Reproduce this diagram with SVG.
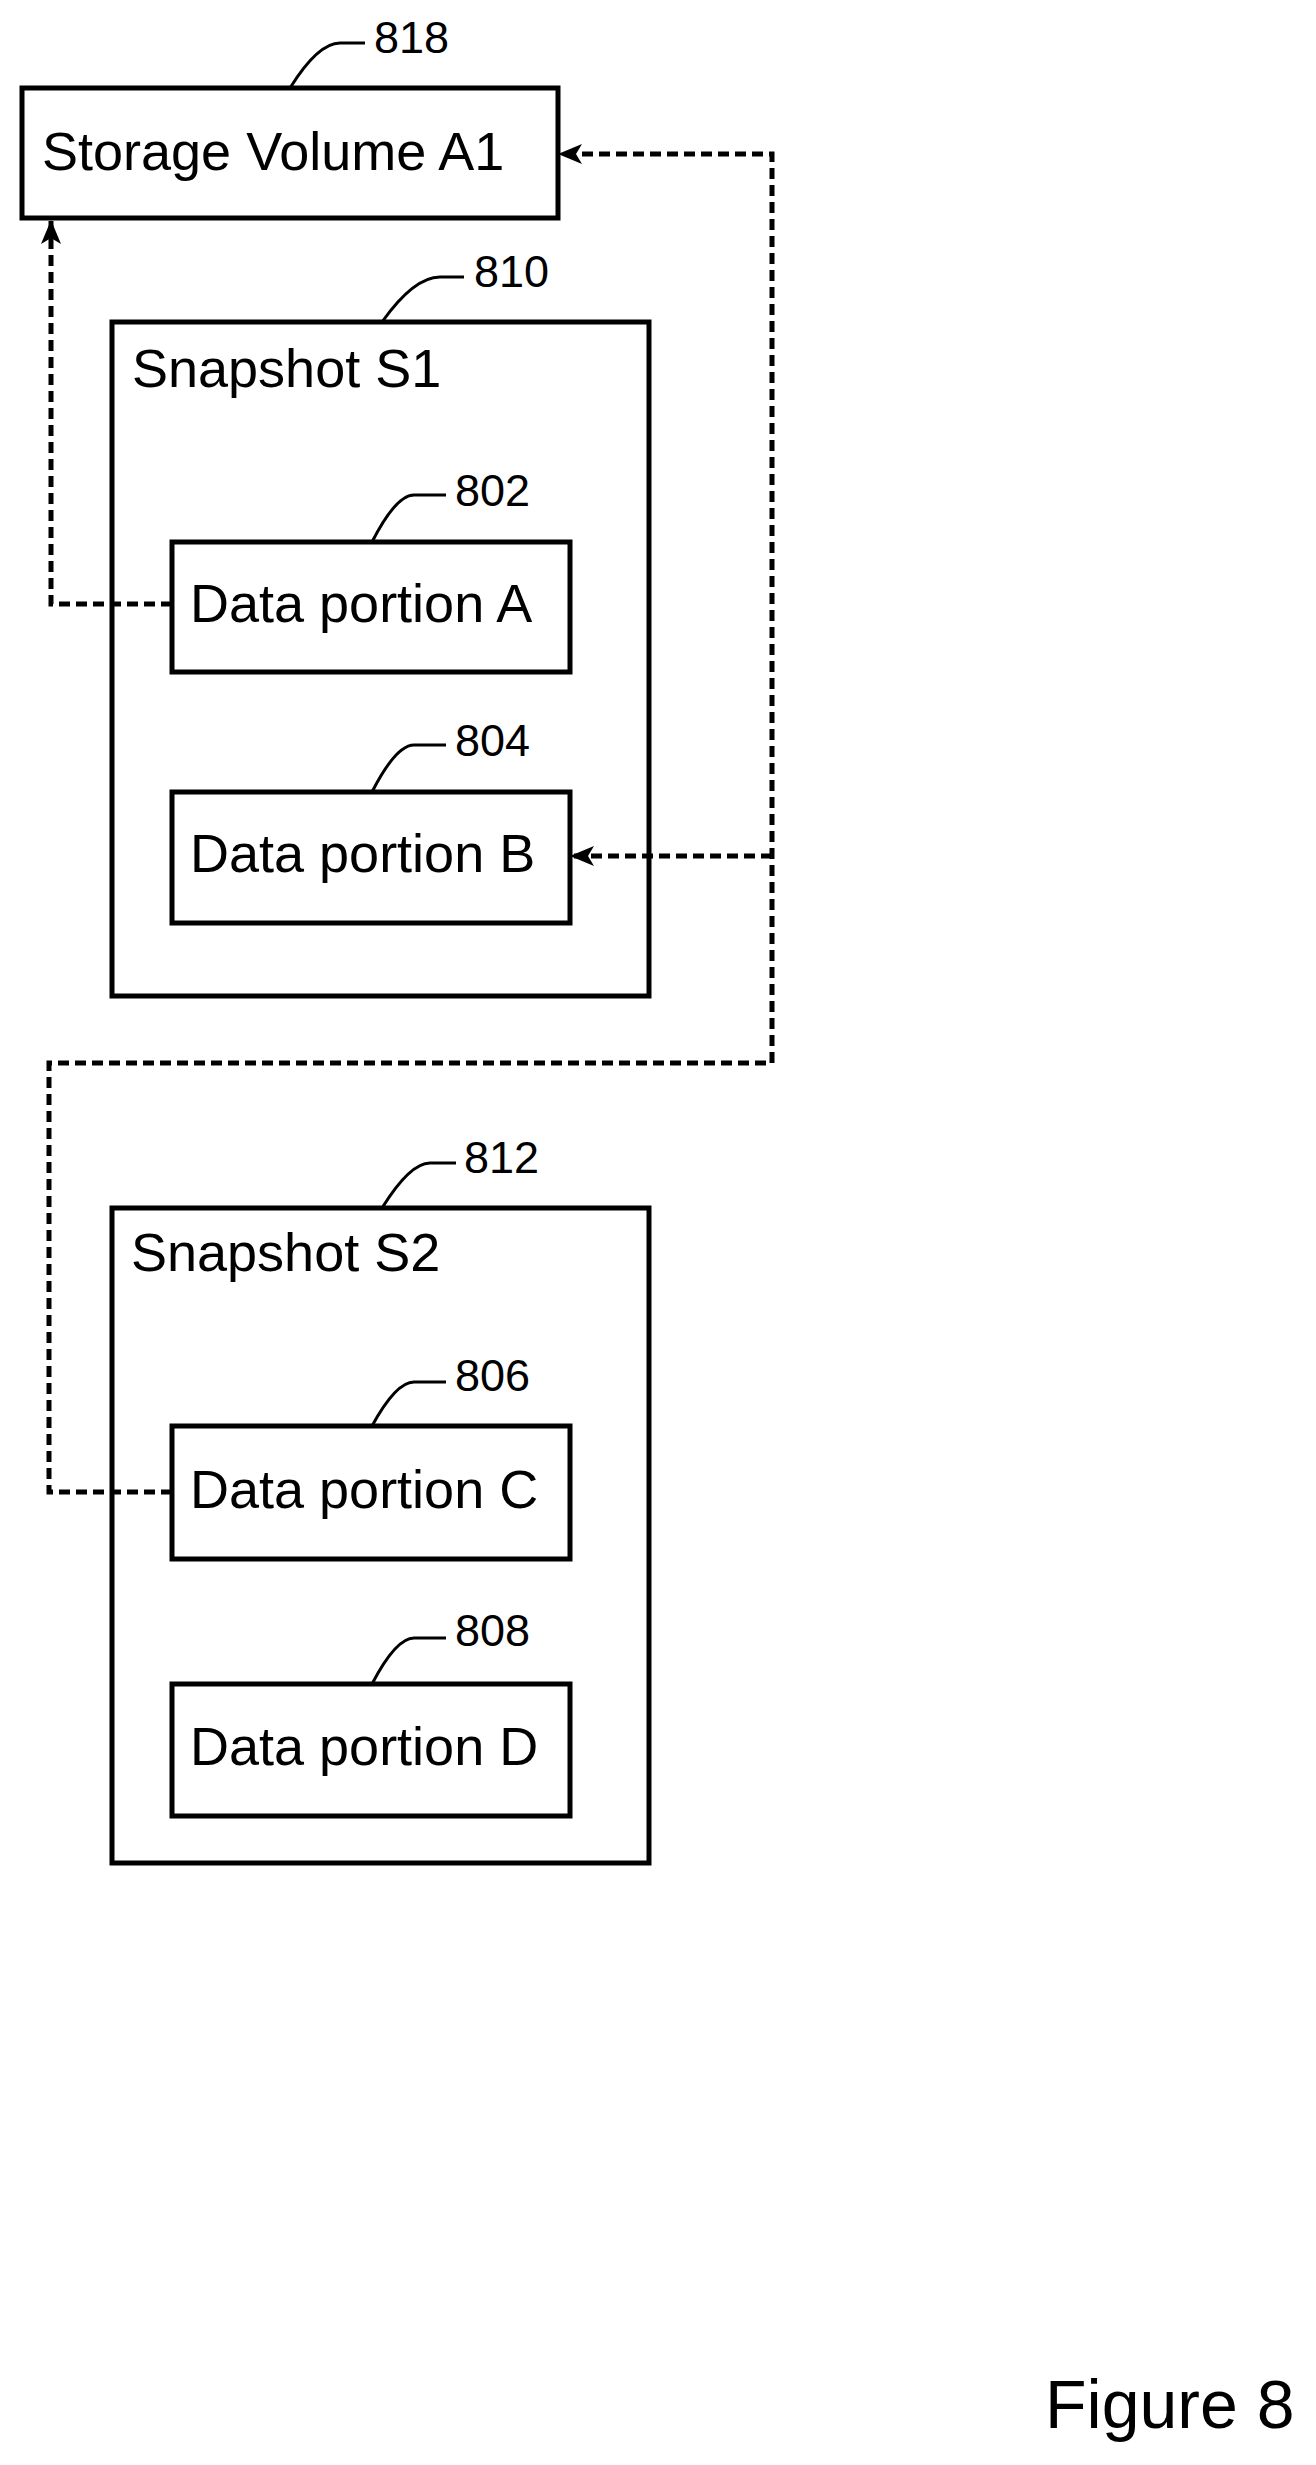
<svg xmlns="http://www.w3.org/2000/svg" width="1316" height="2465" viewBox="0 0 1316 2465">
<style>
.box{fill:#fff;stroke:#000;stroke-width:5}
.lead{fill:none;stroke:#000;stroke-width:3}
.t{font-family:"Liberation Sans",Arial,sans-serif;font-size:54px;fill:#000}
.n{font-family:"Liberation Sans",Arial,sans-serif;font-size:45px;fill:#000}
.dash{fill:none;stroke:#000;stroke-width:5;stroke-dasharray:11 6}
</style>
<defs>
<marker id="ah" viewBox="0 0 24 20" refX="23" refY="10" markerWidth="24" markerHeight="20" markerUnits="userSpaceOnUse" orient="auto">
<path d="M0,0 L24,10 L0,20 L6,10 Z" fill="#000"/>
</marker>
</defs>
<rect width="1316" height="2465" fill="#fff"/>
<g id="n818">
<rect class="box" x="22" y="88" width="536" height="130"/>
<text class="t" x="42" y="170">Storage Volume A1</text>
<path class="lead" d="M290,88 Q318,43 340,43 H365"/>
<text class="n" x="374" y="53">818</text>
</g>
<g id="n810">
<rect class="box" x="112" y="322" width="537" height="674"/>
<text class="t" x="132" y="387">Snapshot S1</text>
<path class="lead" d="M382,322 Q414,277 440,277 H464"/>
<text class="n" x="474" y="287">810</text>
</g>
<g id="n802">
<rect class="box" x="172" y="542" width="398" height="130"/>
<text class="t" x="190" y="622">Data portion A</text>
<path class="lead" d="M372,542 Q396,495 414,495 H446"/>
<text class="n" x="455" y="506">802</text>
</g>
<g id="n804">
<rect class="box" x="172" y="792" width="398" height="131"/>
<text class="t" x="190" y="872">Data portion B</text>
<path class="lead" d="M372,792 Q396,745 414,745 H446"/>
<text class="n" x="455" y="756">804</text>
</g>
<g id="n812">
<rect class="box" x="112" y="1208" width="537" height="655"/>
<text class="t" x="131" y="1271">Snapshot S2</text>
<path class="lead" d="M382,1208 Q410,1163 430,1163 H456"/>
<text class="n" x="464" y="1173">812</text>
</g>
<g id="n806">
<rect class="box" x="172" y="1426" width="398" height="133"/>
<text class="t" x="190" y="1508">Data portion C</text>
<path class="lead" d="M372,1426 Q396,1382 414,1382 H446"/>
<text class="n" x="455" y="1391">806</text>
</g>
<g id="n808">
<rect class="box" x="172" y="1684" width="398" height="132"/>
<text class="t" x="190" y="1765">Data portion D</text>
<path class="lead" d="M372,1684 Q396,1638 414,1638 H446"/>
<text class="n" x="455" y="1646">808</text>
</g>
<g id="connectors">
<path class="dash" d="M172,604 H51 V221" marker-end="url(#ah)"/>
<path class="dash" d="M172,1492 H49 V1063 H772 V154 H559" marker-end="url(#ah)"/>
<path class="dash" d="M772,856 H571" marker-end="url(#ah)"/>
</g>
<text x="1045" y="2428" style="font-family:'Liberation Sans',Arial,sans-serif;font-size:68px">Figure 8</text>
</svg>
